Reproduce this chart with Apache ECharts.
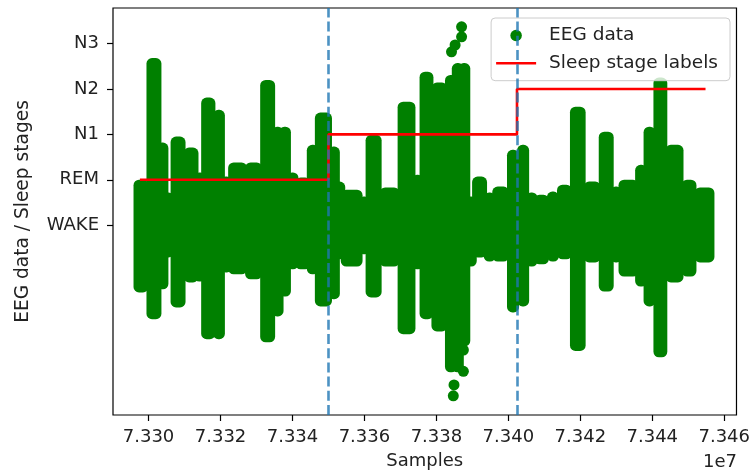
<!DOCTYPE html>
<html>
<head>
<meta charset="utf-8">
<script src="https://cdn.jsdelivr.net/npm/echarts@6/dist/echarts.min.js"></script>
<style>
html,body{margin:0;padding:0;background:#fff;}
#chart{width:753px;height:475px;}
</style>
</head>
<body>
<div id="chart"></div>
<script>
// ---- Data ----
// EEG envelope: window edges (samples), per-window max and min amplitude
const eegEdges = [73296100, 73299700, 73303300, 73304400, 73306400, 73310000, 73313600, 73314900, 73318300, 73320800,
  73322400, 73327100, 73331300, 73334900, 73336800, 73339000, 73341000, 73344800, 73346500, 73350700,
  73352300, 73353700, 73359200, 73360600, 73364500, 73369500, 73373900, 73375600, 73378900, 73382800,
  73385300, 73386600, 73388900, 73390200, 73393800, 73395800, 73399900, 73402700, 73405500, 73407400,
  73411000, 73413800, 73417400, 73421200, 73425400, 73429000, 73430900, 73435900, 73437900, 73440600,
  73443900, 73448400, 73452000, 73457000];
const eegMax = [0.88, 3.56, 1.70, 0.60, 1.83, 1.59, 1.04, 2.69, 2.42, 0.95,
  1.26, 1.26, 3.08, 2.05, 2.05, 1.04, 0.93, 1.65, 2.36, 1.61,
  0.84, 0.66, 0.51, 1.87, 0.71, 2.60, 0.99, 3.26, 3.02, 3.19,
  3.45, 3.45, 0.51, 0.95, 0.60, 0.73, 1.54, 1.65, 0.60, 0.55,
  0.62, 0.77, 2.49, 0.84, 1.94, 0.73, 0.88, 1.21, 2.05, 3.13,
  1.65, 0.88, 0.71];
const eegMin = [-1.36, -1.95, -1.29, -0.59, -1.69, -1.14, -1.12, -2.39, -2.39, -0.92,
  -0.96, -1.07, -2.46, -1.89, -1.45, -0.85, -0.85, -0.96, -1.67, -1.51,
  -0.63, -0.79, -0.52, -1.47, -0.79, -2.28, -0.85, -1.95, -2.22, -3.12,
  -3.12, -2.55, -0.79, -0.59, -0.68, -0.68, -1.80, -1.67, -0.79, -0.74,
  -0.68, -0.63, -2.65, -0.70, -1.34, -0.70, -1.01, -1.23, -1.67, -2.79,
  -1.14, -1.01, -0.70];
// isolated EEG samples outside the dense band
const eegOutX = [73387000, 73387000, 73385200, 73384200, 73387500, 73387500, 73384900, 73384700];
const eegOutY = [4.37, 4.15, 3.97, 3.82, -2.75, -3.22, -3.52, -3.76];

// Sleep stage labels (step, post)
const stageX = [73297600, 73350000, 73402400, 73454800];
const stageY = [1, 2, 3, 3];
// Epoch boundaries (dashed lines)
const boundaryX = [73350000, 73402400];

// Axes
const xTicks = [73300000, 73320000, 73340000, 73360000, 73380000, 73400000, 73420000, 73440000, 73460000];
const yTicks = [0, 1, 2, 3, 4];
const yTickLabels = ['WAKE', 'REM', 'N1', 'N2', 'N3'];

// ---- Chart ----
const FONT = 'DejaVu Sans';
const TXT = '#222';
const DOT_R = 5.5;

const envData = [];
for (let i = 0; i < eegMax.length; i++) {
  envData.push([eegEdges[i], eegEdges[i + 1], eegMax[i], eegMin[i]]);
}
const outData = eegOutX.map((x, i) => [x, eegOutY[i]]);
const stageData = stageX.map((x, i) => [x, stageY[i]]);

const chart = echarts.init(document.getElementById('chart'), null, {renderer: 'canvas'});
chart.setOption({
  animation: false,
  backgroundColor: '#fff',
  grid: {left: 113, top: 8, width: 626, height: 408, show: true, borderColor: '#000', borderWidth: 1.2, backgroundColor: 'transparent'},
  xAxis: {
    type: 'value', min: 73290118, max: 73463405,
    name: 'Samples', nameLocation: 'middle', nameGap: 37,
    nameTextStyle: {fontFamily: FONT, fontSize: 18, color: TXT},
    axisLine: {show: false, onZero: false},
    splitLine: {show: false},
    axisTick: {show: true, length: 6, lineStyle: {color: '#000', width: 1.2}, customValues: xTicks},
    axisLabel: {show: true, margin: 13, fontFamily: FONT, fontSize: 18, color: TXT, customValues: xTicks,
      formatter: v => (v / 1e7).toFixed(3)}
  },
  yAxis: {
    type: 'value', min: -4.182, max: 4.785,
    name: 'EEG data / Sleep stages', nameLocation: 'middle', nameGap: 80, nameRotate: 90,
    nameTextStyle: {fontFamily: FONT, fontSize: 18.6, color: TXT},
    axisLine: {show: false, onZero: false},
    splitLine: {show: false},
    axisTick: {show: true, length: 6, lineStyle: {color: '#000', width: 1.2}, customValues: yTicks},
    axisLabel: {show: true, margin: 14, fontFamily: FONT, fontSize: 18, color: TXT, customValues: yTicks,
      formatter: v => yTickLabels[Math.round(v)]}
  },
  legend: {
    orient: 'vertical', right: 23, top: 18,
    padding: [8, 12, 8, 5], itemGap: 8.7, itemWidth: 40, itemHeight: 11.5,
    backgroundColor: 'rgba(255,255,255,0.8)', borderColor: '#cccccc', borderWidth: 1, borderRadius: 4,
    textStyle: {fontFamily: FONT, fontSize: 18.5, color: TXT, lineHeight: 18, padding: [0, 0, 0, 8]},
    data: [
      {name: 'EEG data', icon: 'circle'},
      {name: 'Sleep stage labels', icon: 'path://M0,0H40V2.6H0Z'}
    ]
  },
  graphic: [{
    type: 'text', right: 16, top: 453,
    style: {text: '1e7', fontFamily: FONT, fontSize: 18, fill: TXT}
  }],
  series: [
    {
      name: 'EEG data', type: 'custom', z: 2, clip: true,
      itemStyle: {color: '#008000'},
      encode: {x: [0, 1], y: [2, 3]},
      data: envData,
      renderItem: function (params, api) {
        const pTop = api.coord([api.value(0), api.value(2)]);
        const pBot = api.coord([api.value(1), api.value(3)]);
        const inset = DOT_R - 1;
        let left = pTop[0] + inset, right = pBot[0] - inset;
        if (right - left < 1) { const m = (left + right) / 2; left = m - 0.5; right = m + 0.5; }
        return {
          type: 'rect',
          shape: {x: left, y: pTop[1], width: right - left, height: pBot[1] - pTop[1]},
          style: {fill: '#008000', stroke: '#008000', lineWidth: DOT_R * 2, lineJoin: 'round'}
        };
      }
    },
    {
      name: 'EEG data', type: 'scatter', z: 2,
      symbol: 'circle', symbolSize: DOT_R * 2,
      itemStyle: {color: '#008000', opacity: 1},
      data: outData
    },
    {
      name: 'Sleep stage labels', type: 'line', z: 3,
      step: 'end', showSymbol: false, symbol: 'none',
      itemStyle: {color: '#ff0000'},
      lineStyle: {color: '#ff0000', width: 2.6},
      data: stageData,
      markLine: {
        silent: true, symbol: ['none', 'none'], label: {show: false},
        lineStyle: {color: '#1f77b4', opacity: 0.8, width: 2.6, type: [10, 4.2]},
        data: boundaryX.map(x => ({xAxis: x}))
      }
    }
  ]
});
</script>
</body>
</html>
